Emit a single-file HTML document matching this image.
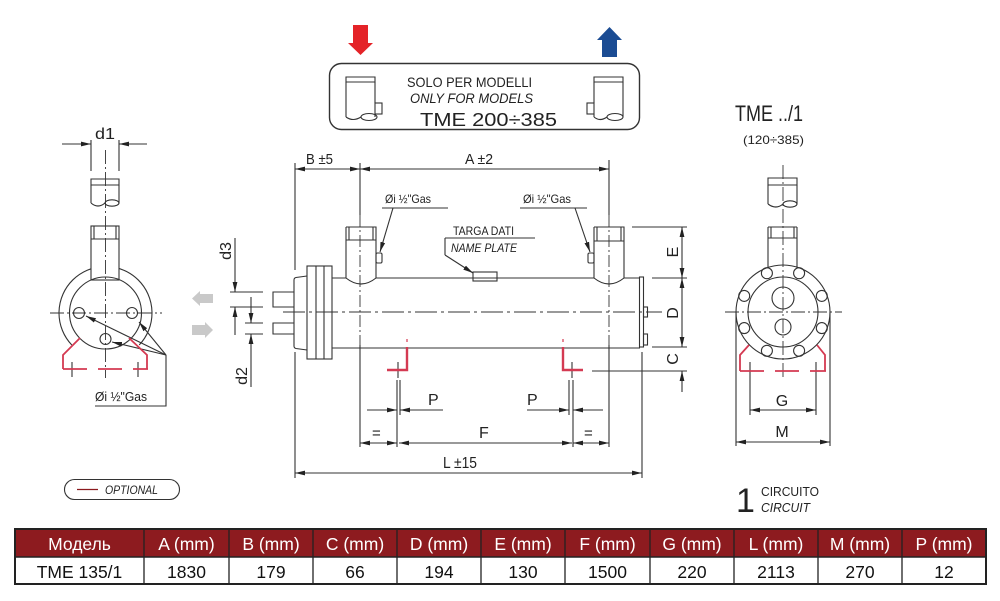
<!DOCTYPE html>
<html><head><meta charset="utf-8">
<style>
html,body{margin:0;padding:0;background:#fff;}
body{width:1000px;height:601px;overflow:hidden;position:relative;}
svg{position:absolute;left:0;top:0;}
</style></head>
<body>
<svg width="1000" height="601" viewBox="0 0 1000 601" xmlns="http://www.w3.org/2000/svg" font-family="'Liberation Sans', sans-serif">
<defs>
<marker id="ar" viewBox="0 0 10 6" refX="10" refY="3" markerWidth="10" markerHeight="6" markerUnits="userSpaceOnUse" orient="auto-start-reverse"><path d="M0,0.6L10,3L0,5.4z" fill="#222"/></marker>
</defs>

<!-- ===== TOP ARROWS & BOX ===== -->
<polygon points="353,25 368,25 368,43 373,43 360.5,55 348,43 353,43" fill="#e42328"/>
<polygon points="609.5,27 622,40 617,40 617,57 602,57 602,40 597,40" fill="#1b4c93"/>
<g stroke="#333" stroke-width="1.1" fill="none">
<rect x="329.5" y="63.5" width="310" height="66" rx="12" stroke-width="1.4"/>
<path d="M346,77H375V82H346Z"/>
<path d="M346,82V117M375,82V103M375,114V117"/>
<rect x="375" y="103" width="7" height="11"/>
<path d="M346,117Q353,122 361,117"/>
<ellipse cx="369" cy="117" rx="8" ry="3.5"/>
<path d="M594,77H623V82H594Z"/>
<path d="M623,82V117M594,82V103M594,114V117"/>
<rect x="587" y="103" width="7" height="11"/>
<path d="M594,117Q600,122 607,117"/>
<ellipse cx="615" cy="117" rx="8" ry="3.5"/>
</g>
<g fill="#222">
<text x="407" y="87" font-size="14" textLength="125" lengthAdjust="spacingAndGlyphs">SOLO PER MODELLI</text>
<text x="410" y="103" font-size="14" font-style="italic" textLength="123" lengthAdjust="spacingAndGlyphs">ONLY FOR MODELS</text>
<text x="420" y="126" font-size="18" textLength="137" lengthAdjust="spacingAndGlyphs">TME 200÷385</text>
</g>

<!-- ===== LEFT VIEW ===== -->
<g stroke="#333" stroke-width="1.1" fill="none">
<path d="M91,140V171M119,140V171"/>
<line x1="62" y1="144" x2="91" y2="144" marker-end="url(#ar)"/>
<line x1="147" y1="144" x2="119" y2="144" marker-end="url(#ar)"/>
<path d="M91,179H119V185H91Z"/>
<path d="M91,185V203M119,185V203"/>
<path d="M91,203Q98,209 105,203"/>
<ellipse cx="112" cy="203" rx="7" ry="3.2"/>
<path d="M71.8,345A46.5,46.5 0 1 1 139.2,345"/>
<rect x="91" y="226" width="28" height="54" fill="#fff"/>
<path d="M91,239H119M94,226V239M116,226V239"/>
<circle cx="105.5" cy="313" r="36"/>
<circle cx="79" cy="313" r="5.5"/>
<circle cx="132" cy="313" r="5.5"/>
<circle cx="105.5" cy="339" r="5.5"/>
<line x1="105.5" y1="150" x2="105.5" y2="378" stroke-width="0.9" stroke-dasharray="14,3,2,3"/>
<line x1="50" y1="313" x2="162" y2="313" stroke-width="0.9" stroke-dasharray="14,3,2,3"/>
<line x1="166" y1="355" x2="86" y2="316" marker-end="url(#ar)"/>
<line x1="166" y1="355" x2="139" y2="322" marker-end="url(#ar)"/>
<line x1="166" y1="355" x2="112" y2="342" marker-end="url(#ar)"/>
<path d="M166,355V406H95"/>
<path d="M72,362V377M138,362V377"/>
</g>
<g stroke="#d43a52" stroke-width="1.8" fill="none">
<path d="M80,338L63,355V369M129,338L147,355V369"/>
<line x1="63" y1="369" x2="148" y2="369" stroke-dasharray="24,11"/>
</g>
<g fill="#222">
<text x="95" y="139" font-size="16" textLength="20" lengthAdjust="spacingAndGlyphs">d1</text>
<text x="95" y="401" font-size="13" textLength="52" lengthAdjust="spacingAndGlyphs">Øi ½"Gas</text>
</g>

<polygon points="192,298.5 200,291 200,294 213,294 213,303 200,303 200,306" fill="#c9c9c9"/>
<polygon points="213,330 205,322 205,325 192,325 192,335 205,335 205,338" fill="#c9c9c9"/>

<!-- ===== MAIN VIEW ===== -->
<g stroke="#333" stroke-width="1.1" fill="none">
<path d="M332,278H346M376,278H594M624,278H640"/>
<path d="M332,348H640"/>
<rect x="639.5" y="277" width="4" height="70"/>
<rect x="643.5" y="307" width="4" height="10"/>
<rect x="643.5" y="334" width="4" height="11"/>
<rect x="307" y="266" width="25" height="93"/>
<path d="M316,266V359M324,266V359"/>
<path d="M307,276L296,277.5Q294,278 294,280V346Q294,348 296,348.5L307,350"/>
<path d="M294,292H273V307H294M294,323H273V334H294"/>
<path d="M346,227H376V278M346,227V278M346,240H376M349,227V240M373,227V240"/>
<path d="M346,278Q361,290 376,278"/>
<path d="M594,227H624V278M594,227V278M594,241H624M597,227V241M621,227V241"/>
<path d="M594,278Q609,290 624,278"/>
<rect x="376" y="253" width="6" height="10" rx="1.5"/>
<rect x="588" y="253" width="6" height="10" rx="1.5"/>
<rect x="473" y="272" width="24" height="9"/>
<line x1="283" y1="312" x2="662" y2="312" stroke-width="0.9" stroke-dasharray="22,4,3,4"/>
<path d="M295,163V270M295,352V478M642,352V478"/>
<path d="M360,163V215M360,345V447M609,160V215M609,345V447"/>
<path d="M360,215V345M609,215V345" stroke-dasharray="12,3,2,3" stroke-width="0.9"/>
<line x1="295" y1="169" x2="360" y2="169" marker-start="url(#ar)" marker-end="url(#ar)"/>
<line x1="360" y1="169" x2="609" y2="169" marker-start="url(#ar)" marker-end="url(#ar)"/>
<path d="M382,208H448M520,208H587"/>
<line x1="393" y1="208" x2="380" y2="252" marker-end="url(#ar)"/>
<line x1="575" y1="208" x2="590" y2="252" marker-end="url(#ar)"/>
<path d="M445,238H535M445,238V255"/>
<line x1="445" y1="255" x2="473" y2="273" marker-end="url(#ar)"/>
<path d="M230,292H263M230,307H263M245,323H263M245,334H263"/>
<line x1="235" y1="238" x2="235" y2="292" marker-end="url(#ar)"/>
<line x1="235" y1="335" x2="235" y2="307" marker-end="url(#ar)"/>
<line x1="251" y1="297" x2="251" y2="323" marker-end="url(#ar)"/>
<line x1="251" y1="387" x2="251" y2="334" marker-end="url(#ar)"/>
<path d="M632,227H687M652,278H687M652,347H687M592,371H687"/>
<line x1="682" y1="227" x2="682" y2="278" marker-start="url(#ar)" marker-end="url(#ar)"/>
<line x1="682" y1="278" x2="682" y2="347" marker-start="url(#ar)" marker-end="url(#ar)"/>
<line x1="682" y1="392" x2="682" y2="371" marker-end="url(#ar)"/>
<path d="M398,362V378M391,370H405M572,362V378M565,370H579"/>
<path d="M397,380V447M400,380V415M569,380V415M573,380V447"/>
<line x1="367" y1="410" x2="397" y2="410" marker-end="url(#ar)"/>
<line x1="443" y1="410" x2="400" y2="410" marker-end="url(#ar)"/>
<line x1="527" y1="410" x2="569" y2="410" marker-end="url(#ar)"/>
<line x1="603" y1="410" x2="573" y2="410" marker-end="url(#ar)"/>
<line x1="360" y1="443" x2="397" y2="443" marker-start="url(#ar)" marker-end="url(#ar)"/>
<line x1="399" y1="443" x2="572" y2="443" marker-start="url(#ar)" marker-end="url(#ar)"/>
<line x1="573" y1="443" x2="609" y2="443" marker-start="url(#ar)" marker-end="url(#ar)"/>
<line x1="295" y1="473" x2="642" y2="473" marker-start="url(#ar)" marker-end="url(#ar)"/>
</g>
<g stroke="#d43a52" stroke-width="2.4" fill="none">
<path d="M407,347V370H387M563,347V370H583"/>
<path d="M407,339V342M563,339V342" stroke-width="1.2"/>
</g>
<g fill="#222">
<text x="306" y="164" font-size="15" textLength="27" lengthAdjust="spacingAndGlyphs">B ±5</text>
<text x="465" y="164" font-size="15" textLength="28" lengthAdjust="spacingAndGlyphs">A ±2</text>
<text x="385" y="203" font-size="12" textLength="46" lengthAdjust="spacingAndGlyphs">Øi ½"Gas</text>
<text x="523" y="203" font-size="12" textLength="48" lengthAdjust="spacingAndGlyphs">Øi ½"Gas</text>
<text x="453" y="235" font-size="12" textLength="61" lengthAdjust="spacingAndGlyphs">TARGA DATI</text>
<text x="451" y="252" font-size="12" font-style="italic" textLength="66" lengthAdjust="spacingAndGlyphs">NAME PLATE</text>
<text transform="translate(231,251) rotate(-90)" font-size="16" text-anchor="middle">d3</text>
<text transform="translate(247,376) rotate(-90)" font-size="16" text-anchor="middle">d2</text>
<text transform="translate(678,252) rotate(-90)" font-size="16" text-anchor="middle">E</text>
<text transform="translate(678,313) rotate(-90)" font-size="16" text-anchor="middle">D</text>
<text transform="translate(678,359) rotate(-90)" font-size="16" text-anchor="middle">C</text>
<text x="428" y="405" font-size="16">P</text>
<text x="527" y="405" font-size="16">P</text>
<text x="372" y="438" font-size="15">=</text>
<text x="479" y="438" font-size="16">F</text>
<text x="584" y="438" font-size="15">=</text>
<text x="443" y="468" font-size="16" textLength="34" lengthAdjust="spacingAndGlyphs">L ±15</text>
</g>

<!-- ===== RIGHT VIEW ===== -->
<g stroke="#333" stroke-width="1.1" fill="none">
<path d="M768,178H797V185H768Z"/>
<path d="M768,185V204M797,185V204"/>
<path d="M768,204Q776,210 783,204"/>
<ellipse cx="790" cy="204" rx="7" ry="3.2"/>
<path d="M768,227V268M797,227V268M768,227H797M768,238H797M771,227V238M794,227V238"/>
<circle cx="783" cy="312" r="47"/>
<circle cx="783" cy="312" r="35"/>
<circle cx="766.9" cy="273.2" r="5.5"/>
<circle cx="799.1" cy="273.2" r="5.5"/>
<circle cx="744.2" cy="295.9" r="5.5"/>
<circle cx="821.8" cy="295.9" r="5.5"/>
<circle cx="744.2" cy="328.1" r="5.5"/>
<circle cx="821.8" cy="328.1" r="5.5"/>
<circle cx="766.9" cy="350.8" r="5.5"/>
<circle cx="799.1" cy="350.8" r="5.5"/>
<circle cx="783" cy="298" r="11"/>
<circle cx="783" cy="327" r="8"/>
<line x1="783" y1="165" x2="783" y2="380" stroke-width="0.9" stroke-dasharray="14,3,2,3"/>
<line x1="725" y1="312" x2="842" y2="312" stroke-width="0.9" stroke-dasharray="14,3,2,3"/>
<path d="M750,362V415M816,362V415M736,312V446M830,312V446"/>
<line x1="750" y1="410" x2="816" y2="410" marker-start="url(#ar)" marker-end="url(#ar)"/>
<line x1="736" y1="442" x2="830" y2="442" marker-start="url(#ar)" marker-end="url(#ar)"/>
</g>
<g stroke="#d43a52" stroke-width="1.8" fill="none">
<path d="M749,345L740,355V371M817,345L825,355V371"/>
<line x1="740" y1="371" x2="826" y2="371" stroke-dasharray="24,11"/>
</g>
<g fill="#222">
<text x="735" y="121" font-size="22" textLength="68" lengthAdjust="spacingAndGlyphs">TME ../1</text>
<text x="743" y="144" font-size="12" textLength="61" lengthAdjust="spacingAndGlyphs">(120÷385)</text>
<text x="782" y="406" font-size="16" text-anchor="middle">G</text>
<text x="782" y="437" font-size="16" text-anchor="middle">M</text>
</g>

<!-- ===== OPTIONAL / CIRCUIT ===== -->
<rect x="64.5" y="479.5" width="115" height="20" rx="10" stroke="#333" stroke-width="1.1" fill="none"/>
<line x1="77" y1="489.5" x2="98" y2="489.5" stroke="#8b1a1e" stroke-width="1.2"/>
<text x="105" y="494" font-size="12" font-style="italic" fill="#222" textLength="53" lengthAdjust="spacingAndGlyphs">OPTIONAL</text>
<text x="736" y="512" font-size="34" fill="#222">1</text>
<text x="761" y="496" font-size="13" fill="#222" textLength="58" lengthAdjust="spacingAndGlyphs">CIRCUITO</text>
<text x="761" y="512" font-size="13" font-style="italic" fill="#222" textLength="49" lengthAdjust="spacingAndGlyphs">CIRCUIT</text>

<!-- ===== TABLE ===== -->
<rect x="15" y="529" width="971" height="28" fill="#8d1b1f"/>
<g stroke="#222" fill="none">
<rect x="15" y="529" width="971" height="55" stroke-width="2"/>
<line x1="15" y1="557" x2="986" y2="557" stroke-width="1.5"/>
<path d="M144,529V584M229,529V584M313,529V584M397,529V584M481,529V584M565,529V584M650,529V584M734,529V584M818,529V584M902,529V584" stroke-width="1.3"/>
</g>
<g font-size="17.5" text-anchor="middle" fill="#fff">
<text x="79.5" y="550">Модель</text>
<text x="186.5" y="550">A (mm)</text>
<text x="271" y="550">B (mm)</text>
<text x="355" y="550">C (mm)</text>
<text x="439" y="550">D (mm)</text>
<text x="523" y="550">E (mm)</text>
<text x="607.5" y="550">F (mm)</text>
<text x="692" y="550">G (mm)</text>
<text x="776" y="550">L (mm)</text>
<text x="860" y="550">M (mm)</text>
<text x="944" y="550">P (mm)</text>
</g>
<g font-size="17.5" text-anchor="middle" fill="#111">
<text x="79.5" y="578">TME 135/1</text>
<text x="186.5" y="578">1830</text>
<text x="271" y="578">179</text>
<text x="355" y="578">66</text>
<text x="439" y="578">194</text>
<text x="523" y="578">130</text>
<text x="607.5" y="578">1500</text>
<text x="692" y="578">220</text>
<text x="776" y="578">2113</text>
<text x="860" y="578">270</text>
<text x="944" y="578">12</text>
</g>
</svg>
</body></html>
